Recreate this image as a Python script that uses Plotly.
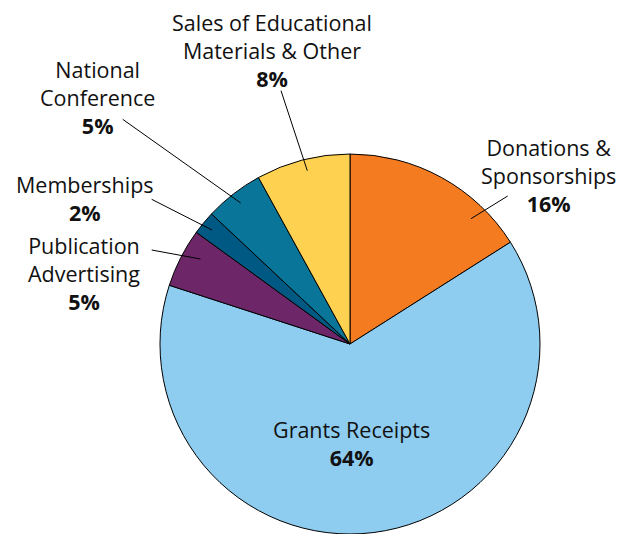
import plotly.graph_objects as go

W, H = 625, 534

categories = ["Donations &<br>Sponsorships", "Grants Receipts", "Publication<br>Advertising",
              "Memberships", "National<br>Conference", "Sales of Educational<br>Materials & Other"]
values = [16, 64, 5, 2, 5, 8]
colors = ["#F47B20", "#8ECCF0", "#6D2769", "#005982", "#087599", "#FFD150"]

# label block centre (pixels) and leader lines (pixels): line start, line end
label_pos = [(548, 175.0), (351, 443.5), (84, 273.8), (85, 198.7), (97, 97.2), (272, 50.8)]
leaders = [((507.7, 196), (471, 218.7)), None, ((151.7, 250), (200.5, 259)),
           ((151.7, 199.3), (212, 230)), ((122.7, 119.3), (240.7, 203)),
           ((281, 90.7), (307.3, 170.7))]

cx, cy, r = 350, 344, 190
FS = 21.5

fig = go.Figure(go.Pie(
    values=values,
    labels=categories,
    marker=dict(colors=colors, line=dict(color="black", width=1)),
    sort=False,
    direction="clockwise",
    rotation=0,
    textinfo="none",
    hoverinfo="label+percent",
    showlegend=False,
    domain=dict(x=[(cx - r) / W, (cx + r) / W], y=[0, 2 * r / H]),
))


def px(x):
    return x / W


def py(y):
    return 1 - y / H


for cat, val, (lx, ly) in zip(categories, values, label_pos):
    fig.add_annotation(
        x=px(lx), y=py(ly), xref="paper", yref="paper",
        text=f"{cat}<br><b>{val}%</b>", showarrow=False, align="center",
        xanchor="center", yanchor="middle",
        font=dict(family="Open Sans", size=FS, color="#111111"),
    )

for ld in leaders:
    if ld is None:
        continue
    (x0, y0), (x1, y1) = ld
    fig.add_shape(type="line", xref="paper", yref="paper",
                  x0=px(x0), y0=py(y0), x1=px(x1), y1=py(y1),
                  line=dict(color="black", width=1))

fig.update_layout(
    width=W, height=H,
    margin=dict(l=0, r=0, t=0, b=0),
    paper_bgcolor="white", plot_bgcolor="white",
)

fig.write_html("out.html", config={"displayModeBar": False},
               post_script="document.body.style.margin='0';document.body.style.overflow='hidden';")
